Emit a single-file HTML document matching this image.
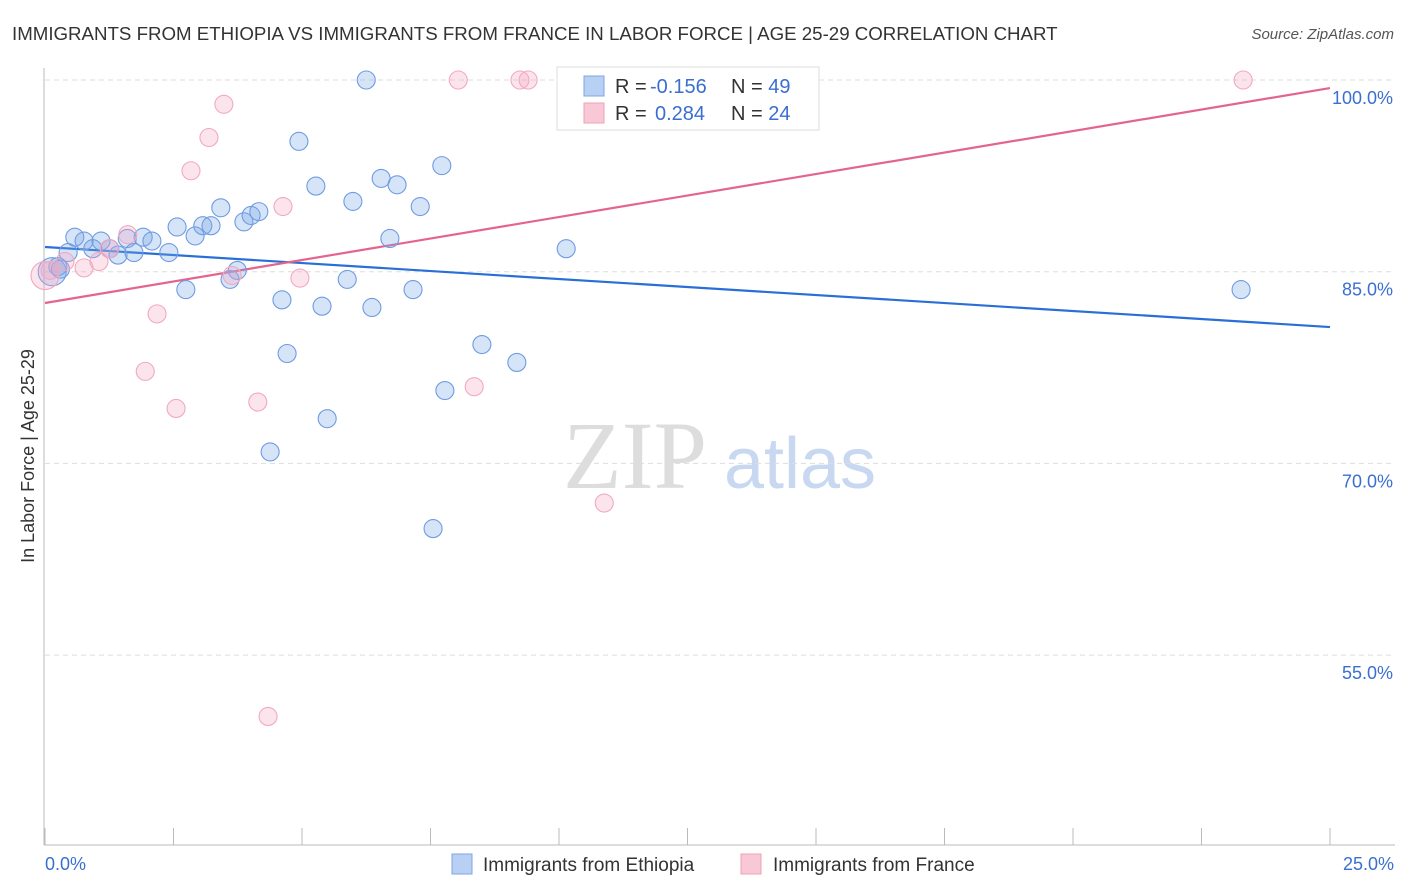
<!DOCTYPE html>
<html><head><meta charset="utf-8"><style>
body{margin:0;background:#fff;font-family:"Liberation Sans",sans-serif;}
svg{display:block}
</style></head><body>
<svg id="chart" width="1406" height="892">
<text x="12" y="40" font-size="18.7" fill="#333">IMMIGRANTS FROM ETHIOPIA VS IMMIGRANTS FROM FRANCE IN LABOR FORCE | AGE 25-29 CORRELATION CHART</text>
<text x="1394" y="39" font-size="15" fill="#555" font-style="italic" text-anchor="end">Source: ZipAtlas.com</text>
<text x="635" y="488" font-size="96" fill="#ddd" font-family="Liberation Serif,serif" text-anchor="middle">ZIP</text>
<text x="800" y="488" font-size="72" fill="#c8d8f0" text-anchor="middle">atlas</text>
<g id="grid"></g>
<line x1="44" y1="68" x2="44" y2="845" stroke="#bbb"/>
<line x1="44" y1="845" x2="1395" y2="845" stroke="#bbb"/>
<text x="34" y="456" font-size="18" fill="#333" text-anchor="middle" transform="rotate(-90 34 456)">In Labor Force | Age 25-29</text>
<text x="45" y="870" font-size="18" fill="#3a6fd0">0.0%</text>
<text x="1394" y="870" font-size="18" fill="#3a6fd0" text-anchor="end">25.0%</text>
<g id="lines"></g>
<g id="points"></g>
<g>
<rect x="557" y="67" width="262" height="63" fill="#fff" stroke="#ddd"/>
<rect x="584" y="76" width="20" height="20" fill="#b8d0f4" stroke="#7fa6e6"/>
<rect x="584" y="103" width="20" height="20" fill="#f9c8d6" stroke="#f0a0b8"/>
<text x="615" y="93" font-size="20" fill="#333">R = <tspan x="650" fill="#3a6fd0">-0.156</tspan></text>
<text x="731" y="93" font-size="20" fill="#333">N = <tspan fill="#3a6fd0">49</tspan></text>
<text x="615" y="120" font-size="20" fill="#333">R = <tspan x="655" fill="#3a6fd0">0.284</tspan></text>
<text x="731" y="120" font-size="20" fill="#333">N = <tspan fill="#3a6fd0">24</tspan></text>
</g>
<g>
<rect x="452" y="854" width="20" height="20" fill="#b8d0f4" stroke="#7fa6e6"/>
<text x="483" y="871" font-size="19" fill="#333">Immigrants from Ethiopia</text>
<rect x="741" y="854" width="20" height="20" fill="#f9c8d6" stroke="#f0a0b8"/>
<text x="773" y="871" font-size="19" fill="#333">Immigrants from France</text>
</g>
</svg>
<script>
const yTicks=[100,85,70,55];
const yTickLabels=["100.0%","85.0%","70.0%","55.0%"];
const xTicks=[0,2.5,5,7.5,10,12.5,15,17.5,20,22.5,25];
const ethX=[0.14,0.25,0.45,0.58,0.76,0.93,1.09,1.26,1.42,1.60,1.73,1.91,2.08,2.41,2.57,2.74,2.92,3.07,3.23,3.42,3.60,3.74,3.87,4.01,4.16,4.38,4.61,4.71,4.94,5.27,5.39,5.49,5.88,5.99,6.25,6.36,6.54,6.71,6.85,7.16,7.30,7.55,7.72,7.78,8.50,9.18,10.14,23.27,0.3];
const ethY=[85.0,85.4,86.5,87.7,87.4,86.8,87.4,86.8,86.3,87.6,86.5,87.7,87.4,86.5,88.5,83.6,87.8,88.6,88.6,90.0,84.4,85.1,88.9,89.4,89.7,70.9,82.8,78.6,95.2,91.7,82.3,73.5,84.4,90.5,100,82.2,92.3,87.6,91.8,83.6,90.1,64.9,93.3,75.7,79.3,77.9,86.8,83.6,85.2];
const fraX=[0,0.10,0.39,0.76,1.05,1.25,1.61,1.95,2.18,2.55,2.84,3.19,3.48,3.64,4.14,4.34,4.63,4.96,8.04,8.35,9.24,9.40,10.88,23.31];
const fraY=[84.7,85.1,85.8,85.3,85.8,86.8,87.9,77.2,81.7,74.3,92.9,95.5,98.1,84.7,74.8,50.2,90.1,84.5,100,76.0,100,100,66.9,100];
const ethTrend=[86.93,80.67];
const fraTrend=[82.55,99.37];
const NS="http://www.w3.org/2000/svg";
const xs=v=>45+v*51.4;
const ys=v=>80+(100-v)*12.78;
function mk(t,a){const e=document.createElementNS(NS,t);for(const k in a)e.setAttribute(k,a[k]);return e;}
const grid=document.getElementById('grid');
yTicks.forEach((t,i)=>{
 const l=mk('line',{x1:45,x2:1395,y1:ys(t),y2:ys(t),stroke:'#ddd','stroke-dasharray':'5,4'});
 
 
 grid.appendChild(l);
 const tx=mk('text',{x:1393,y:ys(t)+24,'font-size':18,fill:'#3a6fd0','text-anchor':'end'});
 tx.textContent=yTickLabels[i];
 
 
 grid.appendChild(tx);
});
xTicks.forEach(t=>{
 const l=mk('line',{x1:xs(t),x2:xs(t),y1:828,y2:845,stroke:'#bbb'});
 
 
 grid.appendChild(l);
});
const lines=document.getElementById('lines');
const pts=document.getElementById('points');
function dots(X,Y,fill,stroke,name){
 X.forEach((x,i)=>{
  const big=(x<0.2&&i===0);
  const c=mk('circle',{cx:xs(x),cy:ys(Y[i]),r:big?14:9,fill:fill,stroke:stroke,'stroke-width':1.1});
  
  
  pts.appendChild(c);
 });
}
dots(ethX,ethY,'rgba(120,165,230,0.3)','#6f9be3','ethiopia-point');
dots(fraX,fraY,'rgba(245,165,195,0.3)','#f2a9bf','france-point');
const bl=mk('line',{x1:xs(0),x2:xs(25),y1:ys(ethTrend[0]),y2:ys(ethTrend[1]),stroke:'#2a6fd6','stroke-width':2.2});


lines.appendChild(bl);
const pl=mk('line',{x1:xs(0),x2:xs(25),y1:ys(fraTrend[0]),y2:ys(fraTrend[1]),stroke:'#e4648e','stroke-width':2.2});


lines.appendChild(pl);
</script>
</body></html>
